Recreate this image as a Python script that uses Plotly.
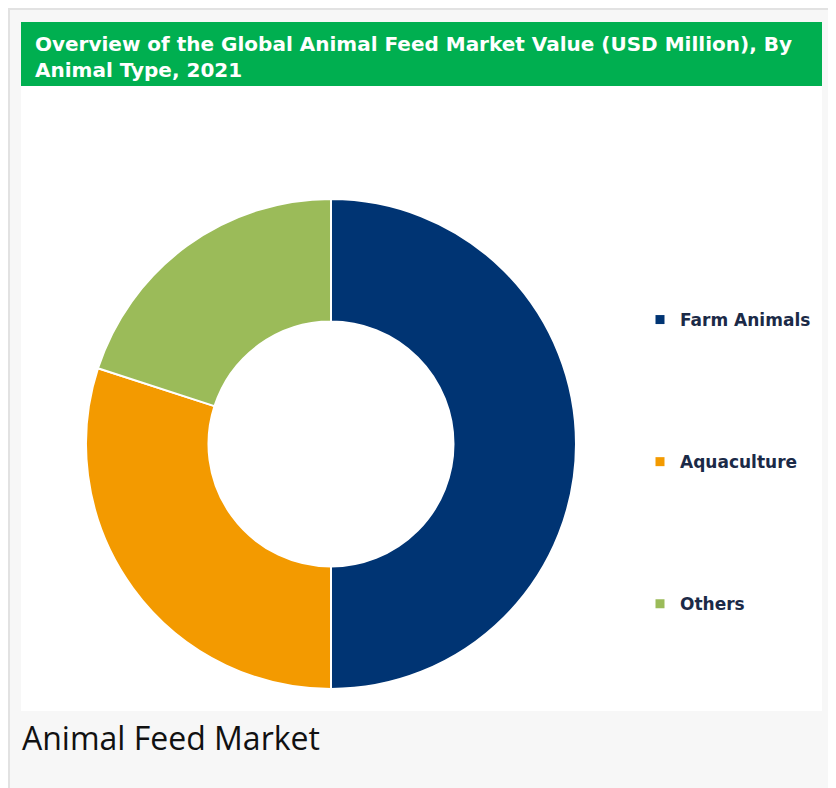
import plotly.graph_objects as go

# ---- data ----
categories = ["Farm Animals", "Aquaculture", "Others"]
shares = [50, 30, 20]
colors = ["#003473", "#F39A00", "#9BBB59"]

title_text = "Overview of the Global Animal Feed Market Value (USD Million), By<br>Animal Type, 2021"
caption_text = "Animal Feed Market"

# the page places the figure 8px in from the window edge
OFF = 8
W, H = 836 - OFF, 788 - OFF

def px(x):
    return (x - OFF) / W

def py(y):
    return 1 - (y - OFF) / H

fig = go.Figure()

fig.add_trace(go.Pie(
    labels=categories,
    values=shares,
    marker=dict(colors=colors, line=dict(color="white", width=2)),
    hole=0.5,
    sort=False,
    direction="clockwise",
    rotation=0,
    textinfo="none",
    hoverinfo="label+percent",
    showlegend=False,
    domain=dict(x=[px(331 - 245), px(331 + 245)], y=[py(444 + 245), py(444 - 245)]),
))

# legend entries (one per category, spaced like the reference)
for cat, col in zip(categories, colors):
    fig.add_trace(go.Scatter(
        x=[None], y=[None], mode="markers", name=cat,
        legendgroup=cat,
        marker=dict(symbol="square", size=9, color=col),
    ))

shapes = [
    # card
    dict(type="rect", xref="paper", yref="paper", x0=px(9), x1=px(860), y0=py(820), y1=py(9),
         fillcolor="#F7F7F7", line=dict(color="#E2E2E2", width=2), layer="below"),
    # white chart area
    dict(type="rect", xref="paper", yref="paper", x0=px(21), x1=px(822), y0=py(711), y1=py(86),
         fillcolor="white", line=dict(width=0), layer="below"),
    # green header
    dict(type="rect", xref="paper", yref="paper", x0=px(21), x1=px(822), y0=py(86), y1=py(22),
         fillcolor="#00AF50", line=dict(width=0), layer="below"),
]

annotations = [
    dict(text="<b>" + title_text + "</b>", xref="paper", yref="paper",
         x=px(33), y=py(30), xanchor="left", yanchor="top", align="left", showarrow=False,
         font=dict(family="DejaVu Sans", size=20, color="white")),
    dict(text=caption_text, xref="paper", yref="paper",
         x=px(20), y=py(737), xanchor="left", yanchor="middle", align="left", showarrow=False,
         font=dict(family="Open Sans", size=32, color="#111111")),
]

fig.update_layout(
    width=W, height=H,
    margin=dict(l=0, r=0, t=0, b=0),
    paper_bgcolor="white",
    plot_bgcolor="rgba(0,0,0,0)",
    xaxis=dict(visible=False),
    yaxis=dict(visible=False),
    shapes=shapes,
    annotations=annotations,
    showlegend=True,
    legend=dict(
        x=px(640), y=py(302), xanchor="left", yanchor="top",
        bgcolor="rgba(0,0,0,0)",
        tracegroupgap=117,
        traceorder="grouped",
        font=dict(family="DejaVu Sans", size=17, color="#1B2A47", weight="bold"),
    ),
)

fig.write_html("out.html")
